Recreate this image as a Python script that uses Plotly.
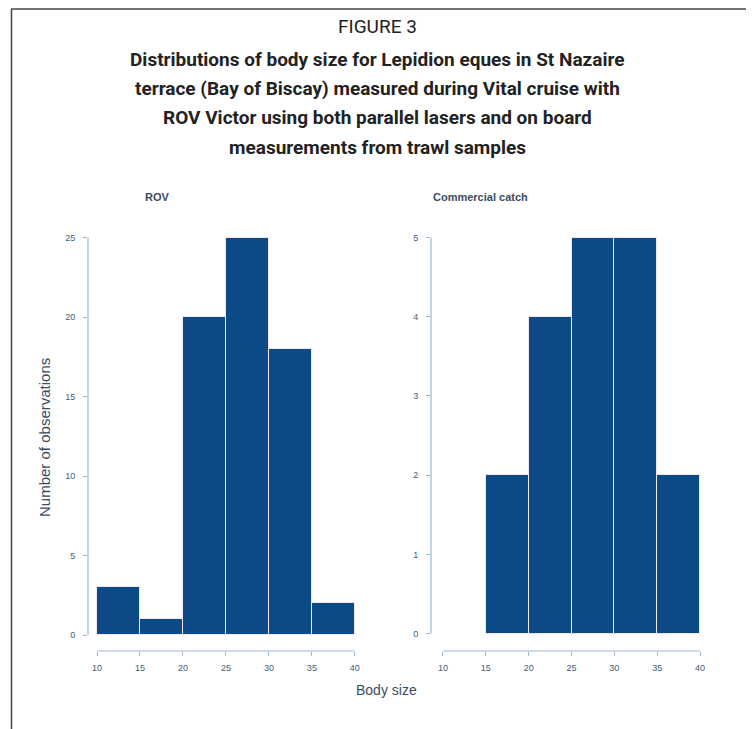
import plotly.graph_objects as go

# data
rov_edges = [10, 15, 20, 25, 30, 35, 40]
rov_counts = [3, 1, 20, 25, 18, 2]
catch_edges = [15, 20, 25, 30, 35, 40]
catch_counts = [2, 4, 5, 5, 2]
x_ticks = [10, 15, 20, 25, 30, 35, 40]
rov_yticks = [0, 5, 10, 15, 20, 25]
catch_yticks = [0, 1, 2, 3, 4, 5]

panel_titles = ["ROV", "Commercial catch"]
fig_label = "FIGURE 3"
title_lines = [
    "Distributions of body size for Lepidion eques in St Nazaire",
    "terrace (Bay of Biscay) measured during Vital cruise with",
    "ROV Victor using both parallel lasers and on board",
    "measurements from trawl samples",
]

# the page body has an 8px margin, so positions below are in window pixels
OFF = 8
W, H = 754 - OFF, 729 - OFF
BAR = "#0b4a86"
AXIS = "#9cbad2"
TICKTXT = "#3e5b78"
LABEL = "#3a4c60"
TITLE_FONT = "Liberation Sans Narrow, Roboto, sans-serif"


def px(x):
    return (x - OFF) / W


def py(y):
    return 1 - (y - OFF) / H


def bins(edges):
    centers = [(a + b) / 2 for a, b in zip(edges[:-1], edges[1:])]
    widths = [b - a for a, b in zip(edges[:-1], edges[1:])]
    return centers, widths


fig = go.Figure()
for edges, counts, xa, ya in [(rov_edges, rov_counts, "x", "y"),
                              (catch_edges, catch_counts, "x2", "y2")]:
    c, w = bins(edges)
    fig.add_trace(go.Bar(x=c, y=counts, width=w,
                         marker=dict(color=BAR, line=dict(color="#f4e6ea", width=1)),
                         xaxis=xa, yaxis=ya, showlegend=False))

ax_common = dict(showgrid=False, zeroline=False, showline=False,
                 ticks="outside", ticklen=4, tickcolor=AXIS, tickwidth=1,
                 tickfont=dict(size=9, color=TICKTXT, family="Liberation Sans"))

fig.update_layout(
    width=W, height=H,
    margin=dict(l=0, r=0, t=0, b=0),
    paper_bgcolor="white", plot_bgcolor="white",
    bargap=0,
    xaxis=dict(domain=[px(88), px(360)], range=[8.95, 40.6],
               tickvals=x_ticks, anchor="y", ticklabelstandoff=4, **ax_common),
    yaxis=dict(domain=[py(651), py(228)], range=[-1.0, 25.6],
               tickvals=rov_yticks, anchor="x", ticklabelstandoff=6, **ax_common),
    xaxis2=dict(domain=[px(431), px(706)], range=[8.6, 40.7],
                tickvals=x_ticks, anchor="y2", ticklabelstandoff=4, **ax_common),
    yaxis2=dict(domain=[py(651), py(228)], range=[-0.22, 5.12],
                tickvals=catch_yticks, anchor="x2", ticklabelstandoff=6, **ax_common),
)

# detached R-style axis lines spanning only the tick range
for xa, ya, yt in [("x", "y", rov_yticks), ("x2", "y2", catch_yticks)]:
    fig.add_shape(type="line", xref=xa, yref=ya + " domain",
                  x0=x_ticks[0], x1=x_ticks[-1], y0=0, y1=0,
                  line=dict(color=AXIS, width=1.2))
    fig.add_shape(type="line", xref=xa + " domain", yref=ya,
                  x0=0, x1=0, y0=yt[0], y1=yt[-1],
                  line=dict(color=AXIS, width=1.2))

# page frame
fig.add_shape(type="line", xref="paper", yref="paper",
              x0=px(11), x1=1, y0=py(9), y1=py(9),
              line=dict(color="#444444", width=1.5))
fig.add_shape(type="line", xref="paper", yref="paper",
              x0=px(11.5), x1=px(11.5), y0=py(9), y1=0,
              line=dict(color="#444444", width=1.5))


def note(text, x, y, size, color, family, bold=False, angle=0):
    fig.add_annotation(text=("<b>%s</b>" % text) if bold else text,
                       xref="paper", yref="paper", x=px(x), y=py(y),
                       xanchor="center", yanchor="middle", showarrow=False,
                       textangle=angle,
                       font=dict(size=size, color=color, family=family))


note(fig_label, 377, 27, 19, "#222222", TITLE_FONT)
for i, line in enumerate(title_lines):
    note(line, 377, 60 + 29 * i, 19, "#222222", TITLE_FONT, bold=True)

for txt, xc in zip(panel_titles, [157, 480]):
    note(txt, xc, 197, 11, LABEL, "Liberation Sans", bold=True)

note("Body size", 386, 690, 14, LABEL, "Liberation Sans")
note("Number of observations", 45, 438, 15, LABEL, "Liberation Sans", angle=-90)

fig.write_html("out.html")
